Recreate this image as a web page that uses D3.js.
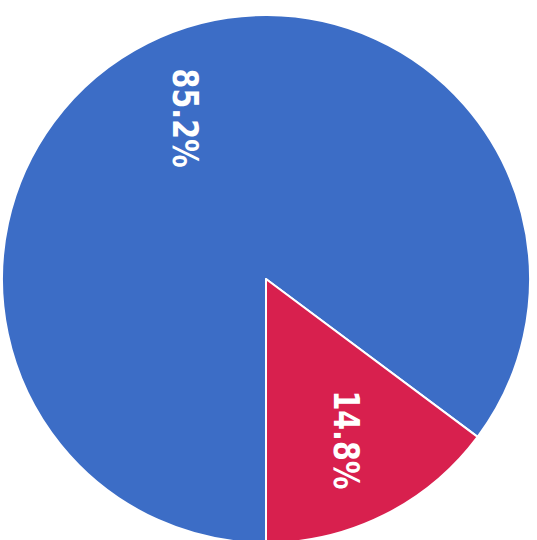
<!DOCTYPE html>
<html>
<head>
<meta charset="utf-8">
<script src="https://cdn.jsdelivr.net/npm/d3@7"></script>
<style>
  html, body { margin: 0; padding: 0; background: #ffffff; }
  svg { display: block; }
</style>
</head>
<body>
<svg id="chart" width="537" height="540"></svg>
<script>
const categories = ["A", "B"];
const values = [85.2, 14.8];
const labels = ["85.2%", "14.8%"];
const colors = ["#3c6dc6", "#d8204e"];

const svg = d3.select("#chart");
const cx = 266, cy = 279, radius = 264;
const g = svg.append("g").attr("transform", `translate(${cx},${cy})`);

const pie = d3.pie().sort(null).startAngle(Math.PI).endAngle(3 * Math.PI);
const arcs = pie(values);
const arc = d3.arc().innerRadius(0).outerRadius(radius);
const labelArc = d3.arc().innerRadius(180).outerRadius(180);

g.selectAll("path.slice")
  .data(arcs)
  .join("path")
  .attr("class", "slice")
  .attr("d", arc)
  .attr("fill", (d, i) => colors[i])
  .attr("stroke", "#ffffff")
  .attr("stroke-width", 2)
  .attr("stroke-linejoin", "round");

g.selectAll("text.lbl")
  .data(arcs)
  .join("text")
  .attr("class", "lbl")
  .attr("transform", d => {
    const [x, y] = labelArc.centroid(d);
    return `translate(${x},${y}) rotate(90)`;
  })
  .attr("text-anchor", "middle")
  .attr("dominant-baseline", "central")
  .attr("fill", "#ffffff")
  .attr("font-family", "DejaVu Sans Condensed, DejaVu Sans, sans-serif")
  .attr("font-weight", "bold")
  .attr("font-size", 36)
  .attr("textLength", 99)
  .attr("lengthAdjust", "spacingAndGlyphs")
  .text((d, i) => labels[i]);
</script>
</body>
</html>
